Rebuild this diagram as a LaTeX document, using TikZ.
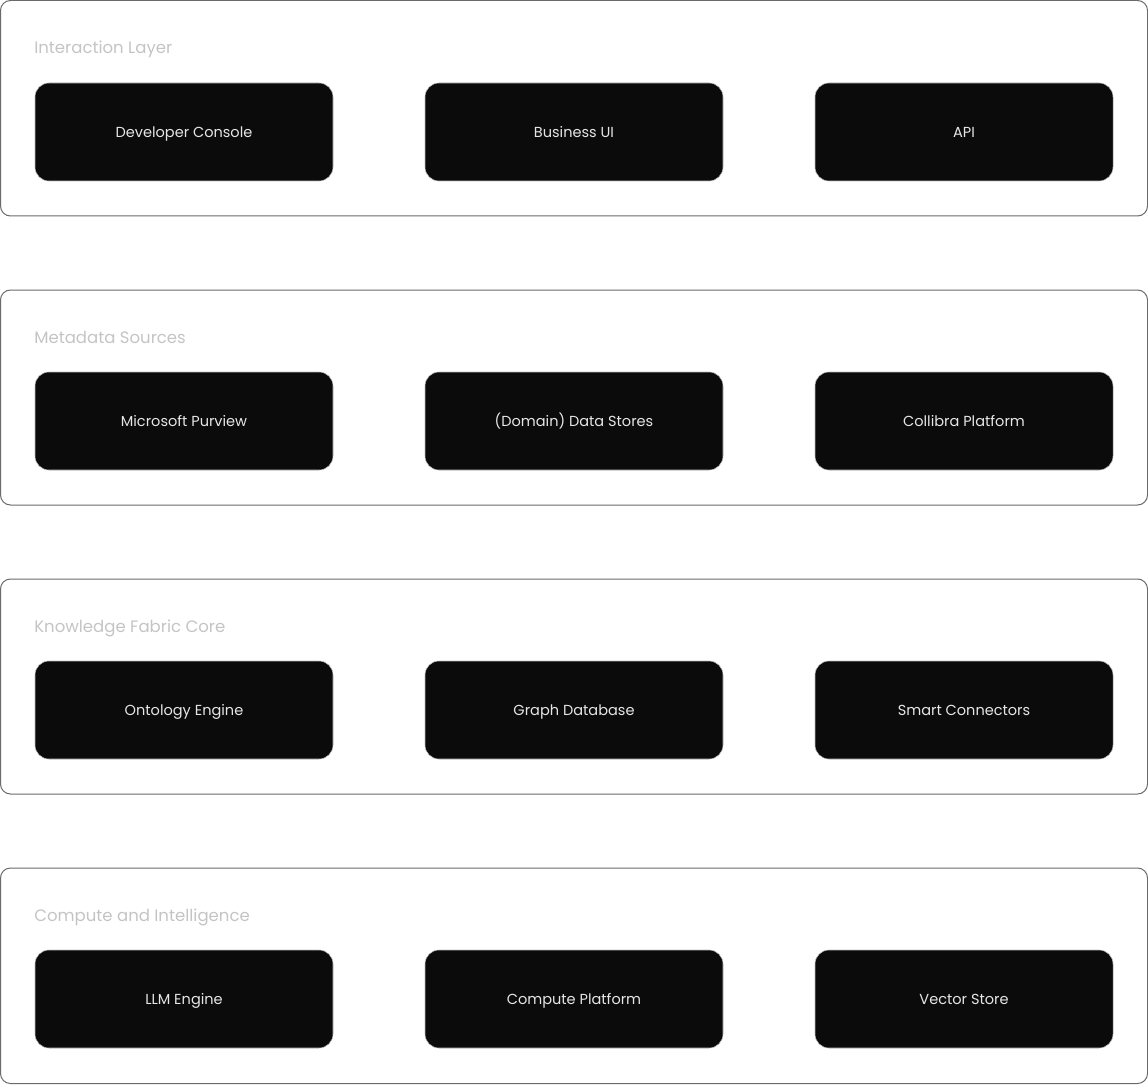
\documentclass[tikz,border=0pt]{standalone}
\usepackage{fontspec}
\setmainfont{Poppins}
\usepackage{xcolor}
\usetikzlibrary{positioning}

\definecolor{layerline}{HTML}{6A6A6A}
\definecolor{layertext}{HTML}{C4C4C4}
\definecolor{boxfill}{HTML}{0B0B0B}
\definecolor{boxline}{HTML}{BDBDBD}
\definecolor{boxtext}{HTML}{E6E6E6}

\begin{document}
\begin{tikzpicture}[x=0.75pt,y=-0.75pt,
    layer/.style={draw=layerline,line width=0.75pt,rounded corners=7.5pt},
    title/.style={anchor=west,inner sep=0pt,text height=9pt,text depth=0pt,
        text=layertext,font=\fontsize{12.4}{15}\selectfont},
    comp/.style={draw=boxline,line width=0.4pt,fill=boxfill,rounded corners=10.5pt,
        minimum width=223.5pt,minimum height=73.5pt,inner sep=0pt,
        text height=7.8pt,text depth=0pt,
        text=boxtext,font=\fontsize{10.9}{13}\selectfont}]

    \useasboundingbox (0,0) rectangle (1148,1084);

    % Interaction layer
    \draw[layer] (0.5,0.5) rectangle (1147.5,216);
    \node [title] at (34,48) (tInteraction) {Interaction Layer};
    \node [comp] at (184,132) (devConsole) {Developer Console};
    \node [comp] at (574,132) (businessUI) {Business UI};
    \node [comp] at (964,132) (api) {API};

    % Metadata sources
    \draw[layer] (0.5,290) rectangle (1147.5,505);
    \node [title] at (34,337) (tMetadata) {Metadata Sources};
    \node [comp] at (184,421) (purview) {Microsoft Purview};
    \node [comp] at (574,421) (dataStores) {(Domain) Data Stores};
    \node [comp] at (964,421) (collibra) {Collibra Platform};

    % Knowledge fabric core
    \draw[layer] (0.5,579) rectangle (1147.5,794);
    \node [title] at (34,626) (tCore) {Knowledge Fabric Core};
    \node [comp] at (184,710) (ontology) {Ontology Engine};
    \node [comp] at (574,710) (graphDB) {Graph Database};
    \node [comp] at (964,710) (connectors) {Smart Connectors};

    % Compute and intelligence
    \draw[layer] (0.5,868) rectangle (1147.5,1083.5);
    \node [title] at (34,915) (tCompute) {Compute and Intelligence};
    \node [comp] at (184,999) (llm) {LLM Engine};
    \node [comp] at (574,999) (compute) {Compute Platform};
    \node [comp] at (964,999) (vector) {Vector Store};

\end{tikzpicture}
\end{document}
